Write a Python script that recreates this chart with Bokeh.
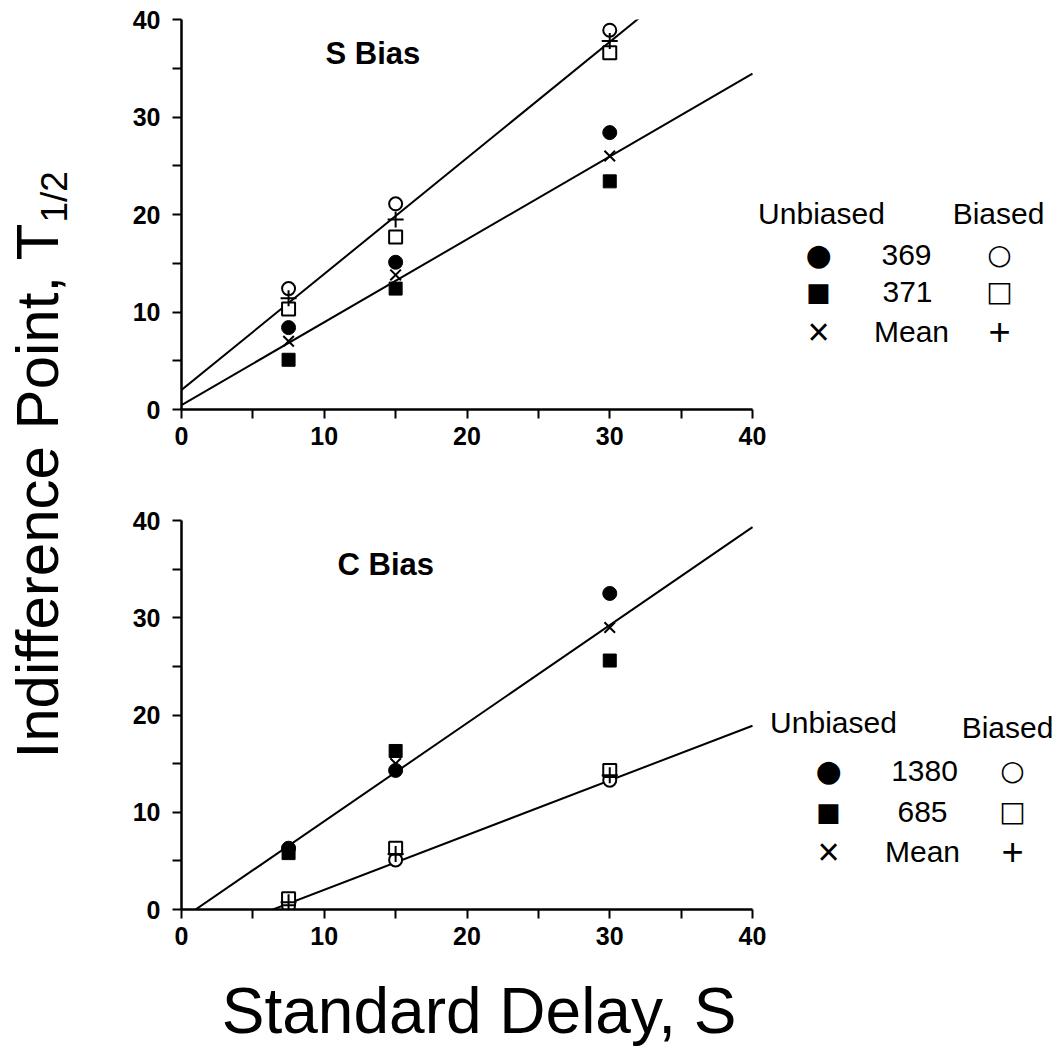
from bokeh.plotting import figure
from bokeh.models import Range1d, FixedTicker, Label
from bokeh.layouts import row, column
from bokeh.embed import file_html
from bokeh.resources import INLINE

# ---------------- data ----------------
delays = [7.5, 15, 30]
axis_ticks = [0, 10, 20, 30, 40]
axis_minor_ticks = [5, 15, 25, 35]
fit_x = [0, 40]

# S Bias panel
s_369_unbiased = [8.4, 15.1, 28.4]
s_371_unbiased = [5.1, 12.4, 23.4]
s_mean_unbiased = [7.0, 13.8, 26.0]
s_369_biased = [12.4, 21.1, 38.9]
s_371_biased = [10.3, 17.7, 36.6]
s_mean_biased = [11.4, 19.5, 37.8]
s_fit_unbiased = [0.45, 0.85]   # intercept, slope
s_fit_biased = [2.0, 1.19]

# C Bias panel
c_1380_unbiased = [6.3, 14.3, 32.5]
c_685_unbiased = [5.8, 16.3, 25.6]
c_mean_unbiased = [6.0, 15.0, 29.0]
c_1380_biased = [0.4, 5.1, 13.3]
c_685_biased = [1.1, 6.3, 14.3]
c_mean_biased = [0.75, 5.7, 13.8]
c_fit_unbiased = [-1.0, 1.008]
c_fit_biased = [-3.6, 0.5625]

FONT = "Liberation Sans"
SYM = "DejaVu Sans"

# frame spans from x=0 (pixel 181) to the right page edge; axes only cover 0..40
PX_PER_UNIT_X = 571 / 40
X_END = (1062 - 181) / PX_PER_UNIT_X


def make_panel(height, border_top, border_bottom):
    p = figure(width=962, height=height, x_range=Range1d(0, X_END), y_range=Range1d(0, 40),
               output_backend="svg", toolbar_location=None,
               min_border_left=81, min_border_right=0,
               min_border_top=border_top, min_border_bottom=border_bottom,
               outline_line_color=None, background_fill_color="white",
               border_fill_color="white")
    p.grid.visible = False
    for ax in (p.xaxis[0], p.yaxis[0]):
        ax.ticker = FixedTicker(ticks=axis_ticks, minor_ticks=axis_minor_ticks)
        ax.bounds = (0, 40)
        ax.axis_line_width = 2.5
        ax.axis_line_color = "black"
        ax.major_tick_line_width = 2
        ax.minor_tick_line_width = 2
        ax.major_tick_line_color = "black"
        ax.minor_tick_line_color = "black"
        ax.major_tick_in = 0
        ax.major_tick_out = 9
        ax.minor_tick_in = 0
        ax.minor_tick_out = 9
        ax.major_label_text_font = FONT
        ax.major_label_text_font_style = "bold"
        ax.major_label_text_font_size = "25px"
        ax.major_label_text_color = "black"
    p.xaxis[0].major_label_standoff = 8
    p.yaxis[0].major_label_standoff = 12
    return p


def draw_series(p, fits, unb_a, unb_b, unb_mean, b_a, b_b, b_mean):
    for fit in fits:
        p.line(fit_x, [fit[0] + fit[1] * x for x in fit_x], line_color="black", line_width=2)
    p.scatter(delays, unb_a, marker="circle", size=14, fill_color="black", line_color="black")
    p.scatter(delays, unb_b, marker="square", size=13, fill_color="black", line_color="black")
    p.scatter(delays, unb_mean, marker="x", size=15, line_color="black", line_width=2)
    p.scatter(delays, b_a, marker="circle", size=13, fill_color="white", line_color="black", line_width=2)
    p.scatter(delays, b_b, marker="square", size=13, fill_color="white", line_color="black", line_width=2)
    p.scatter(delays, b_mean, marker="cross", size=16, line_color="black", line_width=2)


def add_legend(p, conv, head_y, head_b_y, rows_y, unb_x, num_x, b_x, head_unb_x, head_b_x, ids):
    X, Y = conv
    def lab(gx, gy, text, font, size):
        p.add_layout(Label(x=X(gx), y=Y(gy), text=text, text_align="center",
                           text_baseline="middle", text_font=font, text_font_size=size,
                           text_color="black"))
    lab(head_unb_x, head_y, "Unbiased", FONT, "30px")
    lab(head_b_x, head_b_y, "Biased", FONT, "30px")
    lab(unb_x, rows_y[0], "\u25CF", SYM, "30px")
    lab(unb_x, rows_y[1], "\u25A0", SYM, "26px")
    lab(unb_x, rows_y[2], "\u00D7", FONT, "38px")
    lab(num_x[0], rows_y[0], ids[0], FONT, "30px")
    lab(num_x[1], rows_y[1], ids[1], FONT, "30px")
    lab(num_x[2], rows_y[2], "Mean", FONT, "30px")
    lab(b_x, rows_y[0], "\u25CB", SYM, "28px")
    lab(b_x, rows_y[1], "\u25A1", SYM, "28px")
    lab(b_x, rows_y[2], "+", FONT, "38px")


# ---------------- top panel: S Bias ----------------
p1 = make_panel(500, 19, 91)
draw_series(p1, [s_fit_unbiased, s_fit_biased], s_369_unbiased, s_371_unbiased, s_mean_unbiased,
            s_369_biased, s_371_biased, s_mean_biased)
conv1 = (lambda gx: (gx - 181) / PX_PER_UNIT_X, lambda gy: (409 - gy) * 40 / 390)
p1.add_layout(Label(x=conv1[0](325), y=conv1[1](53), text="S Bias", text_font=FONT,
                    text_font_style="bold", text_font_size="31px", text_align="left",
                    text_baseline="alphabetic", text_color="black"))
add_legend(p1, conv1, 213, 213, [254, 291, 331], 818, [906, 907, 911], 999, 821, 998,
           ["369", "371"])

# ---------------- bottom panel: C Bias ----------------
p2 = make_panel(459, 20, 50)
draw_series(p2, [c_fit_unbiased, c_fit_biased], c_1380_unbiased, c_685_unbiased, c_mean_unbiased,
            c_1380_biased, c_685_biased, c_mean_biased)
conv2 = (lambda gx: (gx - 181) / PX_PER_UNIT_X, lambda gy: (909 - gy) * 40 / 389)
p2.add_layout(Label(x=conv2[0](337), y=conv2[1](564), text="C Bias", text_font=FONT,
                    text_font_style="bold", text_font_size="31px", text_align="left",
                    text_baseline="alphabetic", text_color="black"))
add_legend(p2, conv2, 722, 727, [770, 811, 851], 828, [924, 922, 922], 1012, 833, 1007,
           ["1380", "685"])

# ---------------- shared x-axis title (below bottom panel) ----------------
xl = figure(width=962, height=90, x_range=Range1d(0, 962), y_range=Range1d(0, 90),
            x_axis_location=None, y_axis_location=None, min_border=0,
            outline_line_color=None, toolbar_location=None, output_backend="svg",
            background_fill_color="white", border_fill_color="white")
xl.grid.visible = False
xl.add_layout(Label(x=325, y=1049 - 1010, text="Standard Delay, S",
                    text_font=FONT, text_font_size="64px", text_align="center",
                    text_baseline="alphabetic", text_color="black"))

# ---------------- shared y-axis title ----------------
yl = figure(width=100, height=1049, x_range=Range1d(0, 100), y_range=Range1d(0, 1049),
            x_axis_location=None, y_axis_location=None, min_border=0,
            outline_line_color=None, toolbar_location=None, output_backend="svg",
            background_fill_color="white", border_fill_color="white")
yl.grid.visible = False
yl.add_layout(Label(x=37, y=1049 - 758, text="Indifference Point, T", angle=90, angle_units="deg",
                    text_font=FONT, text_font_size="60px", text_align="left",
                    text_baseline="alphabetic", text_color="black"))
yl.add_layout(Label(x=54, y=1049 - 222, text="1/2", angle=90, angle_units="deg",
                    text_font=FONT, text_font_size="37px", text_align="left",
                    text_baseline="alphabetic", text_color="black"))

layout = row(yl, column(p1, p2, xl))
open("out.html", "w").write(file_html(layout, INLINE, title="Indifference Point vs Standard Delay"))
